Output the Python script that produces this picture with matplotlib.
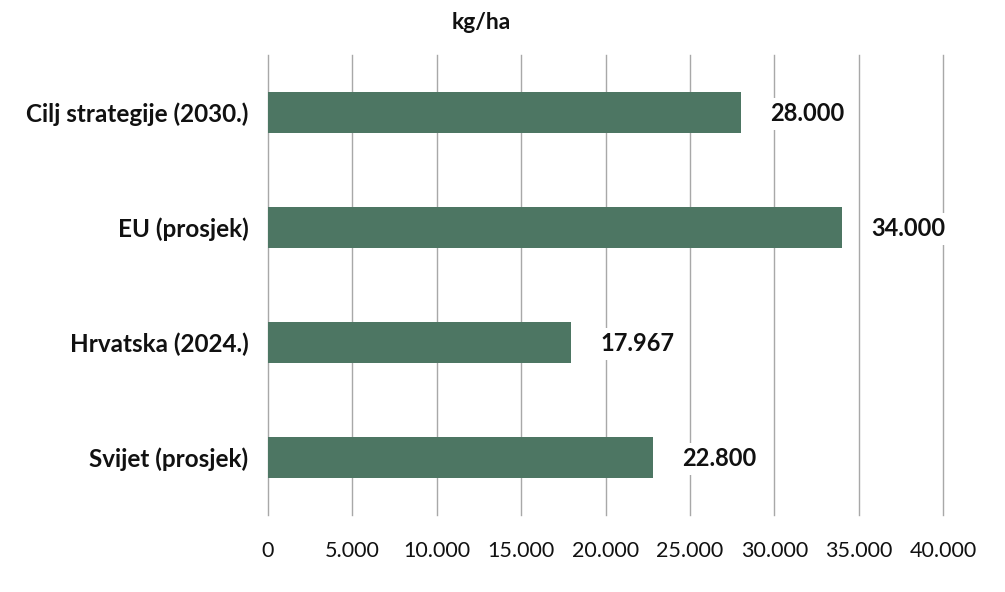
import matplotlib.pyplot as plt

categories = ["Cilj strategije (2030.)", "EU (prosjek)", "Hrvatska (2024.)", "Svijet (prosjek)"]
values = [28000, 34000, 17967, 22800]
value_labels = ["28.000", "34.000", "17.967", "22.800"]
xticks = [0, 5000, 10000, 15000, 20000, 25000, 30000, 35000, 40000]
xtick_labels = ["0", "5.000", "10.000", "15.000", "20.000", "25.000", "30.000", "35.000", "40.000"]

plt.rcParams["font.family"] = ["Lato", "DejaVu Sans"]

fig = plt.figure(figsize=(10.05, 5.92), dpi=100)
ax = fig.add_axes([0.2667, 0.130, 0.6716, 0.777])

ypos = list(range(len(categories)))
ax.barh(ypos, values, height=0.35, color="#4d7663", zorder=2)

for y, v, lab in zip(ypos, values, value_labels):
    ax.annotate(lab, (v, y), xytext=(21, -1), textcoords="offset points",
                ha="left", va="center", fontsize=17, fontweight="bold",
                color="#111111", zorder=3,
                bbox=dict(facecolor="white", edgecolor="none", pad=3))

ax.set_xlim(0, 40000)
ax.set_ylim(3.5, -0.5)
ax.set_yticks(ypos)
ax.set_yticklabels(categories, fontsize=17.5, fontweight="bold", color="#111111")
ax.set_xticks(xticks)
ax.set_xticklabels(xtick_labels, fontsize=15.5, color="#111111")
ax.tick_params(axis="x", length=0, pad=19)
ax.tick_params(axis="y", length=0, pad=14)
ax.grid(axis="x", color="#a8a8a8", linewidth=1, zorder=0)
for gl in ax.get_xgridlines():
    gl.set_clip_on(False)
for s in ax.spines.values():
    s.set_visible(False)

fig.text(0.479, 0.962, "kg/ha", ha="center", va="center", fontsize=16.5, fontweight="bold", color="#111111")

fig.savefig("out.png", dpi=100, facecolor="white")
